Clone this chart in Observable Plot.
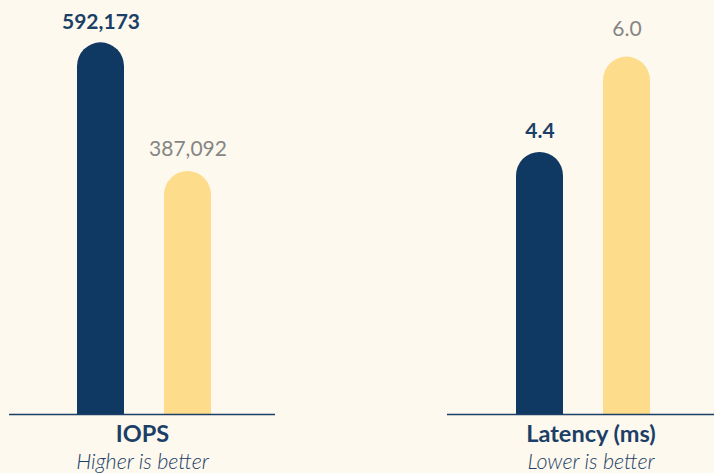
<!DOCTYPE html>
<html><head><meta charset="utf-8">
<script src="https://cdn.jsdelivr.net/npm/d3@7"></script>
<script src="https://cdn.jsdelivr.net/npm/@observablehq/plot@0.6"></script>
<style>
body{margin:0;background:#fef9ef;}
#wrap{position:relative;width:714px;height:473px;overflow:hidden;background:#fef9ef;}
#left{position:absolute;left:9px;top:0}
#right{position:absolute;left:447px;top:0}
</style></head><body><div id="wrap"><div id="left"></div><div id="right"></div></div>
<script>
const series = ["Ours", "Comparison"];
const iopsValues = [592173, 387092];
const latencyValues = [4.4, 6.0];
const panelTitles = ["IOPS", "Latency (ms)"];
const panelNotes = ["Higher is better", "Lower is better"];
const iopsDomainMax = 659600;
const latencyDomainMax = 6.95;

const colors = ["#0f3962", "#fddd8b"];
const navyText = "#1b3f66";
const grayText = "#858585";

function panel({values, yMax, fmt, title, note, width, titleDx, grayGap}) {
  const data = series.map((s, i) => ({series: s, value: values[i], label: fmt(values[i])}));
  return Plot.plot({
    width, height: 473,
    marginTop: 0, marginBottom: 59, marginLeft: 0, marginRight: 0,
    style: {background: "transparent", fontFamily: "Lato, sans-serif", overflow: "visible"},
    x: {domain: series, paddingInner: 0.457, paddingOuter: 0.75, align: 0.517, axis: null},
    y: {domain: [0, yMax], axis: null},
    color: {domain: series, range: colors},
    marks: [
      Plot.barY(data, {x: "series", y: "value", fill: "series", rx: 23.75}),
      Plot.barY(data, {x: "series", y: d => d.value / 2, fill: "series"}),
      Plot.ruleY([0], {stroke: navyText, strokeWidth: 1.5}),
      Plot.text(data.slice(0, 1), {x: "series", y: "value", text: "label", lineAnchor: "bottom", dy: -14, fill: navyText, fontWeight: "bold", fontSize: 21}),
      Plot.text(data.slice(1), {x: "series", y: "value", text: "label", lineAnchor: "bottom", dy: -grayGap, fill: grayText, fontSize: 21}),
      Plot.text([title], {frameAnchor: "bottom", lineAnchor: "bottom", dy: 27.5, dx: titleDx, fill: navyText, fontWeight: "bold", fontSize: 23.5}),
      Plot.text([note], {frameAnchor: "bottom", lineAnchor: "bottom", dy: 54, dx: titleDx, fill: navyText, fontStyle: "italic", fontWeight: 300, fontSize: 21.5})
    ]
  });
}

document.getElementById("left").append(panel({
  values: iopsValues, yMax: iopsDomainMax, fmt: d3.format(","),
  title: panelTitles[0], note: panelNotes[0], width: 266, titleDx: 0, grayGap: 16
}));
document.getElementById("right").append(panel({
  values: latencyValues, yMax: latencyDomainMax, fmt: d3.format(".1f"),
  title: panelTitles[1], note: panelNotes[1], width: 267, titleDx: 10, grayGap: 21
}));
</script></body></html>
